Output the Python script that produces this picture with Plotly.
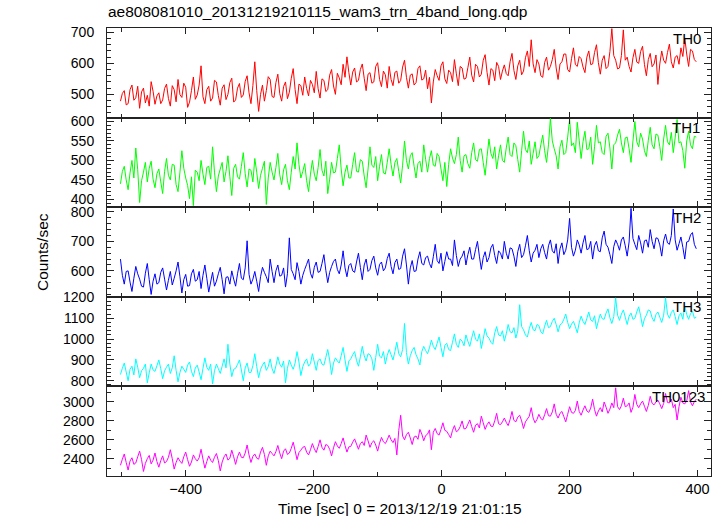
import plotly.graph_objects as go

# ---- data (counts/sec), time bins of 3 s starting at -502 s ----
t_start = -502
t_step = 3

labels = ["TH0", "TH1", "TH2", "TH3", "TH0123"]

th0 = [478, 503, 512, 466, 470, 515, 530, 481, 489, 526, 455, 508, 520, 472, 497, 462, 541, 510, 468, 495,
       505, 470, 482, 519, 533, 487, 462, 528, 515, 476, 548, 499, 490, 536, 523, 458, 475, 512, 556, 484,
       498, 530, 592, 492, 470, 515, 526, 478, 488, 545, 540, 496, 465, 520, 531, 483, 500, 538, 552, 475,
       482, 520, 535, 490, 498, 542, 560, 505, 470, 528, 605, 512, 445, 500, 530, 478, 512, 557, 548, 493,
       490, 538, 565, 502, 478, 525, 540, 486, 507, 552, 583, 515, 470, 533, 528, 497, 556, 519, 495, 545,
       532, 505, 574, 518, 488, 550, 545, 509, 515, 562, 580, 527, 500, 568, 553, 531, 597, 555, 621, 570,
       530, 572, 585, 540, 545, 580, 598, 552, 512, 565, 570, 536, 540, 590, 602, 548, 525, 575, 563, 520,
       590, 548, 528, 571, 575, 536, 545, 588, 610, 555, 520, 562, 566, 530, 538, 583, 592, 546, 550, 578,
       518, 555, 472, 540, 580, 560, 545, 592, 605, 550, 535, 578, 570, 541, 612, 566, 528, 590, 585, 549,
       552, 586, 620, 562, 540, 597, 590, 556, 565, 610, 628, 571, 530, 583, 578, 544, 603, 590, 548, 575,
       595, 567, 560, 605, 632, 577, 548, 592, 610, 563, 575, 618, 640, 590, 676, 598, 570, 612, 598, 560,
       555, 603, 620, 578, 590, 612, 645, 585, 548, 598, 605, 630, 630, 580, 572, 615, 650, 596, 590, 622,
       615, 588, 570, 620, 640, 596, 598, 635, 660, 602, 565, 610, 625, 583, 590, 638, 712, 625, 610, 582,
       585, 625, 708, 610, 620, 590, 572, 618, 645, 604, 600, 638, 655, 596, 560, 612, 632, 589, 598, 627,
       532, 598, 640, 610, 600, 635, 662, 605, 585, 620, 625, 597, 650, 622, 682, 630, 590, 645, 640, 612, 605]

th1 = [440, 472, 485, 450, 425, 468, 500, 455, 532, 476, 392, 448, 470, 495, 445, 480, 498, 452, 430, 466,
       478, 445, 415, 472, 505, 462, 450, 490, 488, 438, 420, 470, 525, 480, 455, 436, 402, 458, 384, 475,
       470, 448, 500, 465, 438, 482, 485, 452, 535, 470, 420, 460, 478, 495, 445, 472, 512, 458, 410, 480,
       490, 458, 452, 485, 520, 466, 432, 478, 475, 445, 505, 470, 428, 462, 480, 498, 387, 455, 495, 470,
       450, 482, 518, 463, 438, 476, 490, 448, 425, 470, 510, 478, 545, 490, 455, 472, 492, 448, 420, 465,
       500, 465, 448, 482, 528, 475, 460, 498, 415, 452, 495, 468, 470, 505, 540, 478, 435, 470, 488, 455,
       455, 490, 520, 472, 470, 502, 498, 460, 430, 478, 535, 488, 482, 510, 448, 485, 515, 468, 465, 495,
       530, 490, 460, 495, 505, 472, 442, 488, 550, 500, 478, 512, 520, 485, 455, 492, 498, 470, 540, 503,
       470, 505, 525, 488, 485, 518, 510, 478, 448, 495, 433, 490, 530, 506, 492, 515, 560, 500, 470, 512,
       515, 492, 480, 520, 545, 502, 498, 528, 530, 495, 462, 510, 555, 518, 505, 535, 478, 512, 540, 500,
       495, 532, 560, 515, 510, 545, 538, 502, 470, 525, 575, 528, 520, 550, 490, 518, 548, 505, 512, 540,
       565, 525, 495, 540, 608, 550, 530, 512, 478, 535, 552, 515, 520, 560, 606, 538, 545, 520, 598, 552,
       505, 548, 575, 528, 530, 560, 490, 535, 590, 545, 548, 520, 515, 562, 570, 532, 478, 540, 545, 565,
       580, 545, 520, 558, 560, 530, 495, 550, 600, 548, 535, 570, 555, 525, 510, 552, 585, 540, 530, 568,
       565, 535, 500, 555, 590, 548, 540, 572, 520, 558, 605, 545, 548, 525, 480, 550, 575, 540, 530, 562, 560]

th2 = [640, 585, 555, 598, 600, 562, 530, 575, 615, 590, 572, 548, 545, 592, 625, 570, 520, 565, 590, 555,
       560, 595, 610, 572, 535, 568, 598, 552, 575, 600, 630, 580, 525, 570, 588, 548, 550, 590, 605, 565,
       570, 598, 540, 585, 620, 575, 528, 562, 595, 548, 565, 590, 612, 570, 522, 578, 580, 555, 600, 572,
       548, 590, 625, 575, 570, 610, 702, 588, 555, 572, 598, 565, 530, 580, 612, 595, 580, 560, 640, 598,
       560, 600, 620, 582, 585, 610, 545, 590, 712, 605, 590, 570, 628, 598, 555, 585, 605, 622, 640, 592,
       575, 612, 630, 595, 598, 625, 655, 602, 560, 595, 615, 632, 640, 605, 590, 620, 668, 610, 580, 618,
       625, 600, 595, 630, 660, 612, 570, 620, 640, 598, 605, 635, 650, 610, 585, 622, 630, 600, 610, 642,
       660, 615, 590, 628, 640, 605, 608, 650, 675, 620, 555, 610, 635, 598, 600, 640, 665, 625, 620, 645,
       650, 625, 610, 648, 690, 635, 625, 660, 600, 632, 665, 640, 640, 618, 705, 652, 615, 640, 650, 668,
       620, 655, 680, 640, 640, 672, 700, 650, 605, 645, 665, 630, 645, 678, 690, 652, 625, 668, 660, 640,
       700, 660, 640, 678, 675, 650, 615, 665, 690, 645, 655, 685, 720, 668, 630, 660, 670, 690, 645, 675,
       690, 662, 640, 685, 705, 668, 660, 692, 625, 675, 695, 655, 670, 705, 778, 680, 650, 670, 705, 688,
       660, 695, 720, 672, 675, 700, 640, 685, 700, 668, 665, 712, 735, 690, 680, 655, 625, 682, 705, 690,
       670, 705, 715, 685, 650, 698, 812, 710, 690, 672, 720, 695, 660, 702, 705, 680, 740, 700, 675, 712,
       710, 688, 650, 702, 725, 695, 690, 720, 810, 705, 670, 692, 715, 680, 640, 698, 700, 722, 730, 690, 675]

th3 = [830, 860, 885, 842, 800, 855, 870, 828, 905, 865, 815, 848, 860, 880, 790, 838, 880, 852, 845, 872,
       900, 858, 810, 848, 865, 880, 835, 862, 920, 850, 795, 840, 870, 855, 840, 875, 890, 845, 820, 862,
       875, 842, 805, 860, 910, 865, 850, 880, 785, 848, 880, 858, 835, 870, 905, 862, 975, 880, 820, 855,
       860, 878, 900, 852, 800, 862, 885, 840, 840, 872, 930, 868, 815, 855, 875, 890, 850, 868, 905, 858,
       835, 872, 915, 880, 865, 895, 790, 860, 900, 875, 855, 885, 940, 890, 825, 868, 890, 905, 870, 882,
       930, 890, 850, 898, 905, 880, 875, 912, 950, 900, 830, 885, 910, 895, 885, 920, 960, 900, 845, 895,
       905, 925, 940, 898, 870, 915, 965, 920, 895, 930, 925, 905, 850, 912, 975, 918, 910, 940, 880, 922,
       950, 925, 900, 940, 985, 930, 915, 950, 1075, 935, 880, 920, 945, 960, 925, 905, 876, 940, 965, 945,
       930, 958, 995, 965, 950, 980, 1010, 960, 915, 970, 980, 950, 945, 985, 1025, 975, 960, 1000, 990, 968,
       1020, 990, 965, 1005, 1040, 1000, 990, 1025, 955, 1000, 1050, 1015, 1005, 985, 975, 1030, 1060, 1020, 1015, 1040,
       990, 1025, 1070, 1035, 1030, 1055, 1005, 1040, 1165, 1060, 1045, 1020, 1010, 1050, 1080, 1045, 1040, 1070, 1065, 1035,
       1025, 1062, 1090, 1055, 1060, 1085, 1100, 1070, 1035, 1068, 1075, 1095, 1120, 1080, 1050, 1072, 1085, 1060, 1030, 1078,
       1110, 1085, 1070, 1100, 1130, 1092, 1085, 1112, 1050, 1088, 1120, 1098, 1095, 1125, 1145, 1102, 1075, 1108, 1198, 1115,
       1090, 1120, 1140, 1105, 1070, 1110, 1125, 1095, 1100, 1130, 1155, 1112, 1060, 1098, 1115, 1140, 1135, 1102, 1085, 1118,
       1130, 1105, 1080, 1115, 1198, 1120, 1100, 1128, 1140, 1108, 1070, 1112, 1125, 1095, 1160, 1118, 1095, 1122, 1135, 1100, 1105]

th0123 = [2330, 2395, 2450, 2360, 2280, 2375, 2410, 2340, 2355, 2420, 2480, 2390, 2265, 2350, 2400, 2435, 2345, 2385, 2460, 2370,
          2310, 2380, 2430, 2355, 2370, 2415, 2495, 2400, 2290, 2360, 2410, 2375, 2350, 2420, 2470, 2390, 2320, 2365, 2440, 2400,
          2375, 2410, 2500, 2395, 2300, 2370, 2430, 2385, 2360, 2415, 2455, 2380, 2270, 2365, 2420, 2450, 2385, 2405, 2490, 2420,
          2340, 2420, 2470, 2415, 2410, 2460, 2545, 2440, 2360, 2425, 2450, 2405, 2395, 2470, 2520, 2445, 2330, 2430, 2480, 2455,
          2430, 2475, 2540, 2460, 2400, 2480, 2505, 2445, 2460, 2510, 2575, 2485, 2390, 2465, 2490, 2520, 2530, 2470, 2440, 2495,
          2560, 2505, 2465, 2530, 2600, 2520, 2490, 2550, 2540, 2500, 2430, 2515, 2580, 2535, 2510, 2560, 2620, 2540, 2470, 2525,
          2530, 2575, 2610, 2555, 2500, 2560, 2580, 2540, 2650, 2590, 2520, 2570, 2590, 2545, 2480, 2565, 2625, 2580, 2560, 2600,
          2650, 2600, 2570, 2615, 2440, 2700, 2860, 2640, 2600, 2655, 2680, 2620, 2550, 2630, 2640, 2605, 2710, 2660, 2590, 2645,
          2660, 2705, 2495, 2680, 2720, 2665, 2650, 2710, 2780, 2700, 2690, 2655, 2620, 2700, 2750, 2685, 2700, 2740, 2800, 2715,
          2720, 2765, 2810, 2740, 2680, 2755, 2770, 2725, 2850, 2780, 2710, 2760, 2790, 2745, 2740, 2800, 2880, 2770, 2760, 2790,
          2830, 2785, 2750, 2815, 2900, 2805, 2790, 2840, 2860, 2800, 2720, 2790, 2820, 2850, 2940, 2830, 2780, 2815, 2870, 2825,
          2810, 2865, 2930, 2855, 2850, 2895, 2980, 2870, 2830, 2880, 2900, 2845, 2790, 2870, 2950, 2890, 2880, 2910, 3010, 2900,
          2860, 2915, 2960, 2905, 2890, 2935, 3030, 2920, 2850, 2905, 2940, 2895, 3000, 2945, 2880, 2925, 2990, 2940, 3150, 2950,
          2920, 2960, 3040, 2950, 2960, 2990, 2890, 2945, 3080, 2975, 2940, 2980, 3010, 2955, 2900, 2965, 3060, 2985, 2970, 3000,
          3020, 2980, 2930, 2985, 3090, 2995, 2990, 3030, 2940, 2975, 2810, 2950, 3050, 2990, 2980, 3010, 3120, 3000, 2960, 3005, 3030]

series = [th0, th1, th2, th3, th0123]
time = [t_start + t_step * i for i in range(len(th0))]

# ---- styling ----
colors = ["#ff0000", "#00ff00", "#0000ff", "#00ffff", "#ff00ff"]
y_ranges = [[425, 714], [380, 610], [512, 816], [773, 1203], [2217, 3165]]
y_dticks = [100, 50, 100, 100, 200]
y_minor = [20, 10, 20, 20, 100]
label_right_px = [703, 702, 703, 703, 707]

W, H = 724, 516
ML, MR, MT, MB = 107, 13, 28, 40
PW, PH = W - ML - MR, H - MT - MB
FONT = "Liberation Sans, Arial, Helvetica, sans-serif"
AX = "#222222"
TICK_SIZE = 14

fig = go.Figure()
layout = dict(
    width=W, height=H,
    margin=dict(l=ML, r=MR, t=MT, b=MB, pad=0),
    paper_bgcolor="white", plot_bgcolor="white",
    showlegend=False,
    font=dict(family=FONT, size=TICK_SIZE, color="black"),
)
annotations = []
n = len(series)
for i in range(n):
    k = "" if i == 0 else str(i + 1)
    fig.add_trace(go.Scatter(
        x=time, y=series[i], mode="lines",
        line=dict(color=colors[i], width=1, simplify=False),
        xaxis="x" + k, yaxis="y" + k, hoverinfo="skip",
    ))
    top = 1 - i / n
    bot = 1 - (i + 1) / n
    layout["xaxis" + k] = dict(
        domain=[0, 1], anchor="y" + k, range=[-523, 421],
        showline=True, linecolor=AX, linewidth=1, mirror="ticks",
        ticks="inside", ticklen=6, tickcolor=AX, tickwidth=1,
        tick0=0, dtick=200,
        minor=dict(dtick=100, ticks="inside", ticklen=4, tickcolor=AX, showgrid=False),
        showgrid=False, zeroline=False,
        showticklabels=(i == n - 1),
        tickfont=dict(family=FONT, size=TICK_SIZE + 0.5, color="black"),
        ticklabelstandoff=0,
    )
    if i > 0:
        layout["xaxis" + k]["matches"] = "x"
    layout["yaxis" + k] = dict(
        domain=[bot, top], anchor="x" + k, range=y_ranges[i],
        showline=True, linecolor=AX, linewidth=1, mirror="ticks",
        ticks="inside", ticklen=7, tickcolor=AX, tickwidth=1,
        tick0=0, dtick=y_dticks[i],
        minor=dict(dtick=y_minor[i], ticks="inside", ticklen=4, tickcolor=AX, showgrid=False),
        showgrid=False, zeroline=False,
        tickfont=dict(family=FONT, size=TICK_SIZE, color="black"),
        ticklabelstandoff=9,
    )
    panel_top_px = MT + i * PH / n
    annotations.append(dict(
        text=labels[i], xref="paper", yref="paper",
        x=(label_right_px[i] - ML) / PW, y=1 - (panel_top_px + 10 - MT) / PH,
        xanchor="right", yanchor="middle", showarrow=False,
        font=dict(family=FONT, size=15, color="black"),
    ))

annotations.append(dict(
    text="ae808081010_20131219210115_wam3_trn_4band_long.qdp",
    xref="paper", yref="paper", x=(106 - ML) / PW, y=1 + (MT - 12) / PH,
    xanchor="left", yanchor="middle", showarrow=False,
    font=dict(family=FONT, size=15.5, color="black"),
))
annotations.append(dict(
    text="Time [sec] 0 = 2013/12/19 21:01:15",
    xref="paper", yref="paper", x=(400 - ML) / PW, y=-(508 - MT - PH) / PH,
    xanchor="center", yanchor="middle", showarrow=False,
    font=dict(family=FONT, size=15.5, color="black"),
))
annotations.append(dict(
    text="Counts/sec",
    xref="paper", yref="paper", x=(42 - ML) / PW, y=0.5,
    xanchor="center", yanchor="middle", showarrow=False, textangle=-90,
    font=dict(family=FONT, size=15.5, color="black"),
))
layout["annotations"] = annotations
fig.update_layout(**layout)
fig.write_html("out.html", config={"displayModeBar": False, "staticPlot": True},
               post_script="document.body.style.margin='0';")
